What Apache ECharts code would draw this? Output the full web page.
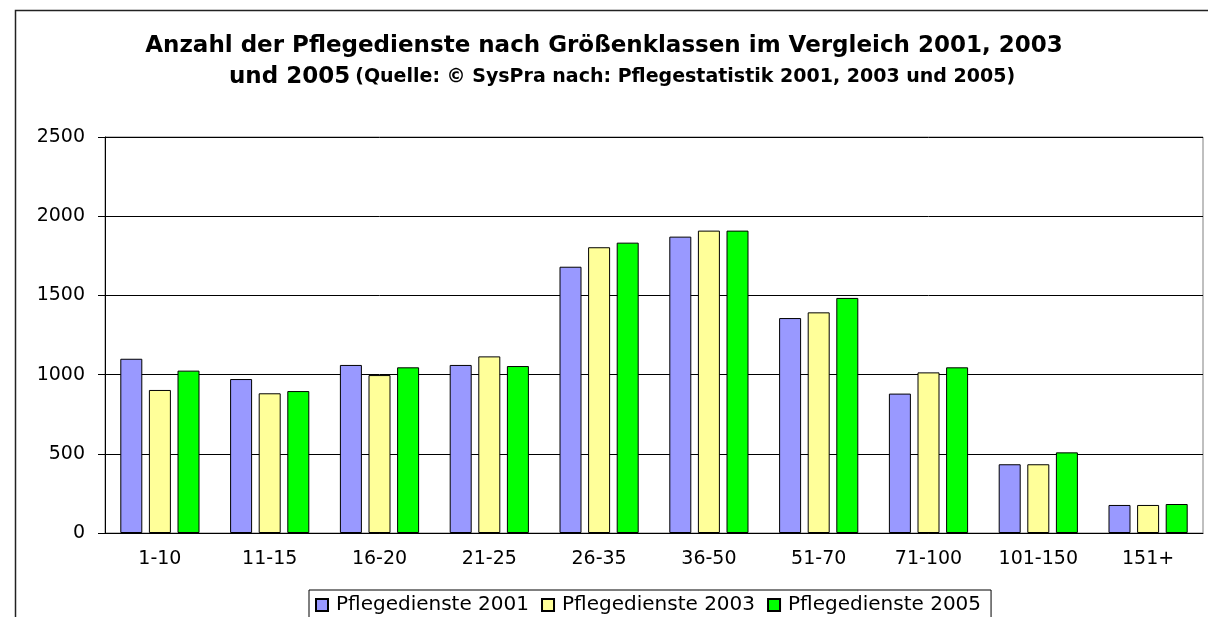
<!DOCTYPE html>
<html>
<head>
<meta charset="utf-8">
<script src="https://cdn.jsdelivr.net/npm/echarts@6/dist/echarts.min.js"></script>
<style>
  html, body { margin: 0; padding: 0; background: #fff; }
  #chart-container { width: 1208px; height: 617px; }
</style>
</head>
<body>
<div id="chart-container"></div>
<script>
// Größenklassen (Anzahl Beschäftigte)
const categories = ['1-10', '11-15', '16-20', '21-25', '26-35', '36-50', '51-70', '71-100', '101-150', '151+'];
// Werte
const dienste2001 = [1100, 972, 1061, 1061, 1681, 1871, 1357, 880, 434, 177];
const dienste2003 = [903, 882, 997, 1115, 1804, 1909, 1393, 1014, 434, 177];
const dienste2005 = [1025, 896, 1046, 1054, 1833, 1909, 1484, 1046, 509, 183];
const yTicks = [0, 500, 1000, 1500, 2000, 2500];

const font = 'DejaVu Sans';
const seriesNames = ['Pflegedienste 2001', 'Pflegedienste 2003', 'Pflegedienste 2005'];
const colors = ['#9999ff', '#ffff99', '#00ff00'];

function barSeries(name, values, color) {
  return {
    name: name,
    type: 'bar',
    data: values,
    barWidth: 22,
    barGap: '30%',
    itemStyle: { color: color, borderColor: '#000', borderWidth: 1 }
  };
}

const titleRich = {
  a: { fontFamily: font, fontWeight: 'bold', fontSize: 23, lineHeight: 31, color: '#000' },
  b: { fontFamily: font, fontWeight: 'bold', fontSize: 19, lineHeight: 31, color: '#000' }
};

const chartOption = {
  animation: false,
  backgroundColor: '#fff',
  title: [{
    left: 'center',
    top: 31,
    padding: 0,
    text: '{a|Anzahl der Pflegedienste nach Größenklassen im Vergleich 2001, 2003}',
    textStyle: { rich: titleRich }
  }, {
    left: 229,
    top: 62,
    padding: 0,
    text: '{a|und 2005} {b|(Quelle: © SysPra nach: Pflegestatistik 2001, 2003 und 2005)}',
    textStyle: { rich: titleRich }
  }],
  graphic: [{
    type: 'rect',
    silent: true,
    shape: { x: 15.5, y: 10.5, width: 1210, height: 700 },
    style: { fill: 'none', stroke: '#222', lineWidth: 1.5 }
  }],
  legend: {
    data: seriesNames,
    left: 309,
    top: 590,
    icon: 'rect',
    itemWidth: 12,
    itemHeight: 12,
    itemGap: 12,
    padding: [5, 10, 5, 6],
    borderColor: '#000',
    borderWidth: 1,
    textStyle: { fontFamily: font, fontSize: 20, color: '#000', padding: [0, 0, 0, 3] }
  },
  grid: {
    left: 105,
    right: 5,
    top: 137,
    bottom: 84,
    show: true,
    borderColor: '#808080',
    borderWidth: 1
  },
  xAxis: {
    type: 'category',
    data: categories,
    axisLine: { lineStyle: { color: '#000' } },
    axisTick: { length: 7, lineStyle: { color: '#000' } },
    axisLabel: { fontFamily: font, fontSize: 19, color: '#000', margin: 17 }
  },
  yAxis: {
    type: 'value',
    min: yTicks[0],
    max: yTicks[yTicks.length - 1],
    interval: yTicks[1] - yTicks[0],
    axisLine: { show: true, lineStyle: { color: '#000' } },
    axisTick: { show: true, length: 7, lineStyle: { color: '#000' } },
    axisLabel: {
      fontFamily: font, fontSize: 19, color: '#000', margin: 20,
      formatter: function (v) { return String(v); }
    },
    splitLine: { lineStyle: { color: '#000', width: 1 } }
  },
  series: [
    barSeries(seriesNames[0], dienste2001, colors[0]),
    barSeries(seriesNames[1], dienste2003, colors[1]),
    barSeries(seriesNames[2], dienste2005, colors[2])
  ]
};

const chart = echarts.init(document.getElementById('chart-container'));
chart.setOption(chartOption);
</script>
</body>
</html>
